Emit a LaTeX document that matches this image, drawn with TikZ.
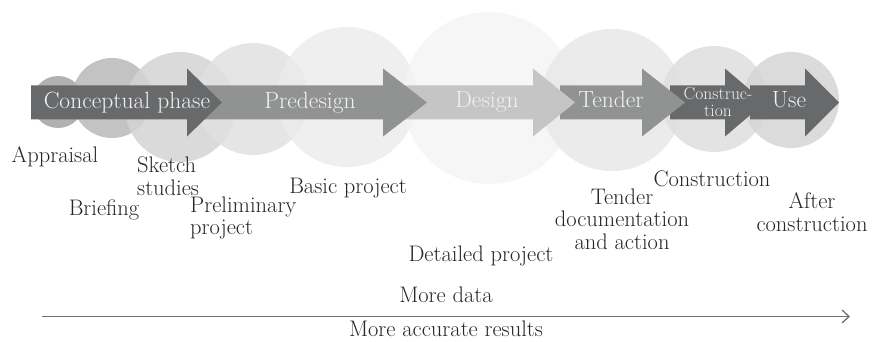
\documentclass[tikz,border=0pt]{standalone}
\usepackage{fontspec}
\usetikzlibrary{arrows.meta}
\definecolor{arrdark}{HTML}{68696B}
\definecolor{arrmid}{HTML}{919292}
\definecolor{arrlight}{HTML}{C5C5C5}
\definecolor{txtlight}{HTML}{F2F2F2}
\definecolor{lbl}{HTML}{262626}
\definecolor{axis}{HTML}{707070}
\tikzset{
  circ/.style={fill=#1, fill opacity=0.85, draw=none},
  lab/.style={text=lbl, font=\fontsize{22.5}{22.5}\selectfont, inner sep=0pt},
  arrtxt/.style={text=txtlight, font=\fontsize{23.5}{20}\selectfont, inner sep=0pt, anchor=base},
}
% \phasearrow{tail}{headbase}{tip}{colour}
\newcommand{\phasearrow}[4]{%
  \fill[#4] (#1,85.5) -- (#2,85.5) -- (#2,68.5) -- (#3,102.5) -- (#2,136.5) -- (#2,119.5) -- (#1,119.5) -- cycle;}
\begin{document}
\begin{tikzpicture}[x=1pt,y=-1pt]
\useasboundingbox (0,0) rectangle (872,342);
% circles
\fill[circ=black!36] (58,102) circle (26);
\fill[circ=black!28] (112,98) circle (40);
\fill[circ=black!17] (180,107) circle (55);
\fill[circ=black!12] (253,99) circle (56);
\fill[circ=black!7.5] (347,97) circle (70);
\fill[circ=black!4.5] (489,98) circle (86);
\fill[circ=black!9] (612,100) circle (71);
\fill[circ=black!13] (714,99) circle (53);
\fill[circ=black!16.5] (791,100) circle (48);
% arrows (later first so earlier heads lie on top)
\phasearrow{750}{805}{839}{arrdark}
\phasearrow{670}{725}{765}{arrdark}
\phasearrow{560}{642}{685}{arrmid}
\phasearrow{400}{533}{575}{arrlight}
\phasearrow{200}{383}{427}{arrmid}
\phasearrow{31}{187}{222}{arrdark}
% arrow texts
\node[arrtxt] (tconc) at (127,109) {Conceptual phase};
\node[arrtxt] (tpre) at (310,109) {Predesign};
\node[arrtxt] (tdes) at (487,108) {Design};
\node[arrtxt] (tten) at (611,108) {Tender};
\node[text=txtlight, inner sep=0pt, align=center, font=\fontsize{17.5}{17.5}\selectfont] (tcon) at (718,102) {Construc-\\tion};
\node[arrtxt] (tuse) at (789,107) {Use};
% labels
\node[lab] (appr) at (55,157) {Appraisal};
\node[lab, align=left, anchor=west] (sketch) at (137,176) {Sketch\\studies};
\node[lab] (brief) at (104,210) {Briefing};
\node[lab, align=left, anchor=west] (prelim) at (190,218) {Preliminary\\project};
\node[lab] (basic) at (348,188) {Basic project};
\node[lab] (detail) at (481,256) {Detailed project};
\node[lab, align=center] (tenderdoc) at (622,219) {Tender\\documentation\\and action};
\node[lab] (constr) at (712,179) {Construction};
\node[lab, align=center] (after) at (812,212) {After\\construction};
\node[lab] (moredata) at (446,295) {More data};
\node[lab] (moreacc) at (446,329) {More accurate results};
% axis
\coordinate (axs) at (42,316.5);
\coordinate (axe) at (850,316.5);
\draw[axis, line width=1.5pt, -{Straight Barb[length=7pt,width=13pt,line width=1.3pt]}] (axs) -- (axe);
\end{tikzpicture}
\end{document}
